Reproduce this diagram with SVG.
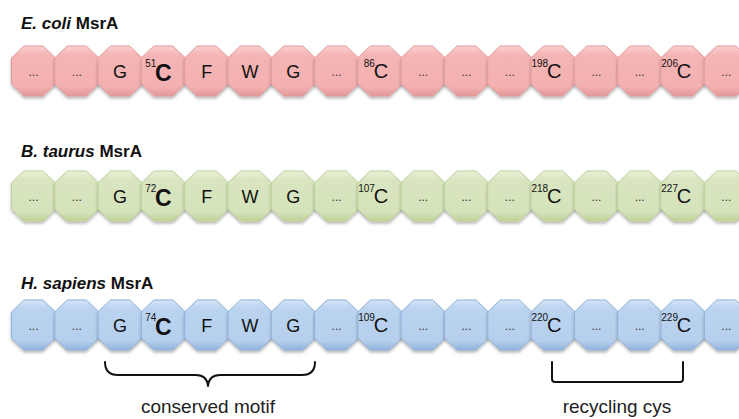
<svg xmlns="http://www.w3.org/2000/svg" xmlns:xlink="http://www.w3.org/1999/xlink" width="739" height="419" viewBox="0 0 739 419">
<style>
.t{font-family:"Liberation Sans",Arial,sans-serif;fill:#111}
.title{font-size:17px;font-weight:bold}
.d{font-size:12px;text-anchor:middle;fill:#333}
.a{font-size:18px;text-anchor:middle}
.cb{font-size:23px;font-weight:bold;text-anchor:middle}
.c{font-size:20px;text-anchor:middle}
.s{font-size:10px;text-anchor:end}
.lab{font-size:19px;text-anchor:middle;fill:#222}
.pk{fill:url(#gP);stroke:#e39c9c;stroke-width:1}
.gr{fill:url(#gG);stroke:#bfd195;stroke-width:1}
.bl{fill:url(#gB);stroke:#8fb2da;stroke-width:1}
.br{fill:none;stroke:#111;stroke-width:2;stroke-linecap:round;stroke-linejoin:round}
</style>
<defs>
<filter id="sh" x="-20%" y="-20%" width="140%" height="150%"><feDropShadow dx="0" dy="2" stdDeviation="1.5" flood-color="#000" flood-opacity="0.3"/></filter>
<linearGradient id="gP" x1="0" y1="0" x2="0" y2="1"><stop offset="0" stop-color="#fbd0d0"/><stop offset="0.18" stop-color="#f5b5b5"/><stop offset="0.82" stop-color="#f3b0b0"/><stop offset="1" stop-color="#e29797"/></linearGradient>
<linearGradient id="gG" x1="0" y1="0" x2="0" y2="1"><stop offset="0" stop-color="#e9f1da"/><stop offset="0.18" stop-color="#d8e5c0"/><stop offset="0.82" stop-color="#d5e3bb"/><stop offset="1" stop-color="#bdd296"/></linearGradient>
<linearGradient id="gB" x1="0" y1="0" x2="0" y2="1"><stop offset="0" stop-color="#d4e4f6"/><stop offset="0.18" stop-color="#bad3ef"/><stop offset="0.82" stop-color="#b5cfed"/><stop offset="1" stop-color="#91b3db"/></linearGradient>
<path id="oct" d="M-9.5,-25 H9.5 L22,-13 V13 L9.5,25 H-9.5 L-22,13 V-13 Z" filter="url(#sh)"/>
</defs>
<rect width="739" height="419" fill="#fff"/>

<text class="t title" x="21" y="29"><tspan font-style="italic">E. coli</tspan> MsrA</text>
<text class="t title" x="21" y="157"><tspan font-style="italic">B. taurus</tspan> MsrA</text>
<text class="t title" x="21" y="289"><tspan font-style="italic">H. sapiens</tspan> MsrA</text>

<g id="ecoli">
<g id="e0" transform="translate(33.5,71)"><use href="#oct" class="pk"/><text class="t d" y="5">...</text></g>
<g id="e1" transform="translate(76.8,71)"><use href="#oct" class="pk"/><text class="t d" y="5">...</text></g>
<g id="e2" transform="translate(120.1,71)"><use href="#oct" class="pk"/><text class="t a" y="6.5">G</text></g>
<g id="e3" transform="translate(163.4,71)"><use href="#oct" class="pk"/><text class="t s" x="-7" y="-4">51</text><text class="t cb" x="0" y="9.5">C</text></g>
<g id="e4" transform="translate(206.7,71)"><use href="#oct" class="pk"/><text class="t a" y="6.5">F</text></g>
<g id="e5" transform="translate(250,71)"><use href="#oct" class="pk"/><text class="t a" y="6.5">W</text></g>
<g id="e6" transform="translate(293.3,71)"><use href="#oct" class="pk"/><text class="t a" y="6.5">G</text></g>
<g id="e7" transform="translate(336.6,71)"><use href="#oct" class="pk"/><text class="t d" y="5">...</text></g>
<g id="e8" transform="translate(379.9,71)"><use href="#oct" class="pk"/><text class="t s" x="-5" y="-4">86</text><text class="t c" x="1" y="7">C</text></g>
<g id="e9" transform="translate(423.2,71)"><use href="#oct" class="pk"/><text class="t d" y="5">...</text></g>
<g id="e10" transform="translate(466.5,71)"><use href="#oct" class="pk"/><text class="t d" y="5">...</text></g>
<g id="e11" transform="translate(509.8,71)"><use href="#oct" class="pk"/><text class="t d" y="5">...</text></g>
<g id="e12" transform="translate(553.1,71)"><use href="#oct" class="pk"/><text class="t s" x="-5" y="-4">198</text><text class="t c" x="1" y="7">C</text></g>
<g id="e13" transform="translate(596.4,71)"><use href="#oct" class="pk"/><text class="t d" y="5">...</text></g>
<g id="e14" transform="translate(639.7,71)"><use href="#oct" class="pk"/><text class="t d" y="5">...</text></g>
<g id="e15" transform="translate(683,71)"><use href="#oct" class="pk"/><text class="t s" x="-5" y="-4">206</text><text class="t c" x="1" y="7">C</text></g>
<g id="e16" transform="translate(726.3,71)"><use href="#oct" class="pk"/><text class="t d" y="5">...</text></g>
</g>

<g id="btaurus">
<g id="b0" transform="translate(33.5,196)"><use href="#oct" class="gr"/><text class="t d" y="5">...</text></g>
<g id="b1" transform="translate(76.8,196)"><use href="#oct" class="gr"/><text class="t d" y="5">...</text></g>
<g id="b2" transform="translate(120.1,196)"><use href="#oct" class="gr"/><text class="t a" y="6.5">G</text></g>
<g id="b3" transform="translate(163.4,196)"><use href="#oct" class="gr"/><text class="t s" x="-7" y="-4">72</text><text class="t cb" x="0" y="9.5">C</text></g>
<g id="b4" transform="translate(206.7,196)"><use href="#oct" class="gr"/><text class="t a" y="6.5">F</text></g>
<g id="b5" transform="translate(250,196)"><use href="#oct" class="gr"/><text class="t a" y="6.5">W</text></g>
<g id="b6" transform="translate(293.3,196)"><use href="#oct" class="gr"/><text class="t a" y="6.5">G</text></g>
<g id="b7" transform="translate(336.6,196)"><use href="#oct" class="gr"/><text class="t d" y="5">...</text></g>
<g id="b8" transform="translate(379.9,196)"><use href="#oct" class="gr"/><text class="t s" x="-5" y="-4">107</text><text class="t c" x="1" y="7">C</text></g>
<g id="b9" transform="translate(423.2,196)"><use href="#oct" class="gr"/><text class="t d" y="5">...</text></g>
<g id="b10" transform="translate(466.5,196)"><use href="#oct" class="gr"/><text class="t d" y="5">...</text></g>
<g id="b11" transform="translate(509.8,196)"><use href="#oct" class="gr"/><text class="t d" y="5">...</text></g>
<g id="b12" transform="translate(553.1,196)"><use href="#oct" class="gr"/><text class="t s" x="-5" y="-4">218</text><text class="t c" x="1" y="7">C</text></g>
<g id="b13" transform="translate(596.4,196)"><use href="#oct" class="gr"/><text class="t d" y="5">...</text></g>
<g id="b14" transform="translate(639.7,196)"><use href="#oct" class="gr"/><text class="t d" y="5">...</text></g>
<g id="b15" transform="translate(683,196)"><use href="#oct" class="gr"/><text class="t s" x="-5" y="-4">227</text><text class="t c" x="1" y="7">C</text></g>
<g id="b16" transform="translate(726.3,196)"><use href="#oct" class="gr"/><text class="t d" y="5">...</text></g>
</g>

<g id="hsapiens">
<g id="h0" transform="translate(33.5,325)"><use href="#oct" class="bl"/><text class="t d" y="5">...</text></g>
<g id="h1" transform="translate(76.8,325)"><use href="#oct" class="bl"/><text class="t d" y="5">...</text></g>
<g id="h2" transform="translate(120.1,325)"><use href="#oct" class="bl"/><text class="t a" y="6.5">G</text></g>
<g id="h3" transform="translate(163.4,325)"><use href="#oct" class="bl"/><text class="t s" x="-7" y="-4">74</text><text class="t cb" x="0" y="9.5">C</text></g>
<g id="h4" transform="translate(206.7,325)"><use href="#oct" class="bl"/><text class="t a" y="6.5">F</text></g>
<g id="h5" transform="translate(250,325)"><use href="#oct" class="bl"/><text class="t a" y="6.5">W</text></g>
<g id="h6" transform="translate(293.3,325)"><use href="#oct" class="bl"/><text class="t a" y="6.5">G</text></g>
<g id="h7" transform="translate(336.6,325)"><use href="#oct" class="bl"/><text class="t d" y="5">...</text></g>
<g id="h8" transform="translate(379.9,325)"><use href="#oct" class="bl"/><text class="t s" x="-5" y="-4">109</text><text class="t c" x="1" y="7">C</text></g>
<g id="h9" transform="translate(423.2,325)"><use href="#oct" class="bl"/><text class="t d" y="5">...</text></g>
<g id="h10" transform="translate(466.5,325)"><use href="#oct" class="bl"/><text class="t d" y="5">...</text></g>
<g id="h11" transform="translate(509.8,325)"><use href="#oct" class="bl"/><text class="t d" y="5">...</text></g>
<g id="h12" transform="translate(553.1,325)"><use href="#oct" class="bl"/><text class="t s" x="-5" y="-4">220</text><text class="t c" x="1" y="7">C</text></g>
<g id="h13" transform="translate(596.4,325)"><use href="#oct" class="bl"/><text class="t d" y="5">...</text></g>
<g id="h14" transform="translate(639.7,325)"><use href="#oct" class="bl"/><text class="t d" y="5">...</text></g>
<g id="h15" transform="translate(683,325)"><use href="#oct" class="bl"/><text class="t s" x="-5" y="-4">229</text><text class="t c" x="1" y="7">C</text></g>
<g id="h16" transform="translate(726.3,325)"><use href="#oct" class="bl"/><text class="t d" y="5">...</text></g>
</g>

<g id="connectors">
<path class="br" d="M105,362 Q105,375 118,375 H196 Q207,375 208,386 Q209,375 220,375 H302 Q315,375 315,362"/>
<path class="br" d="M552,362 V379 Q552,382 555,382 H680 Q683,382 683,379 V362"/>
</g>

<g id="labels">
<text class="t lab" x="208" y="413">conserved motif</text>
<text class="t lab" x="617" y="413">recycling cys</text>
</g>
</svg>
